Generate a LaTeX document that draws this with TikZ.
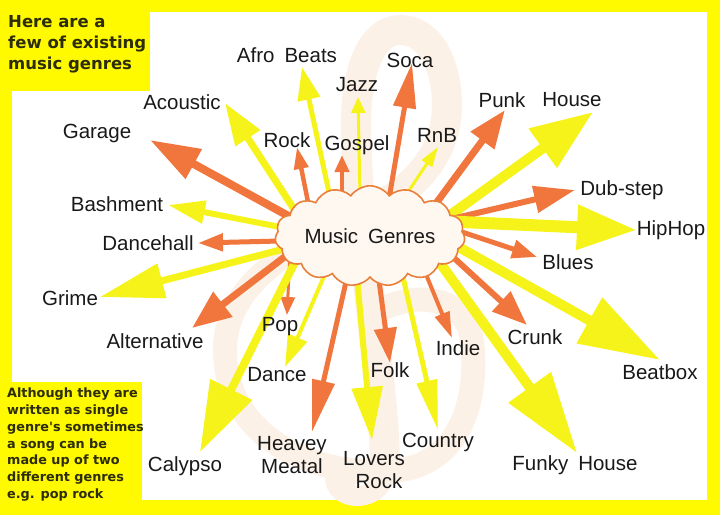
\documentclass[tikz,border=0pt]{standalone}
\usepackage{fontspec}
\setmainfont{Liberation Sans}
\newfontfamily\notefont{DejaVu Sans}
\usetikzlibrary{arrows.meta,shapes.symbols}
\definecolor{frameyellow}{RGB}{255,250,0}
\definecolor{ay}{RGB}{245,243,25}
\definecolor{ao}{RGB}{240,118,62}
\definecolor{cloudline}{RGB}{232,128,60}
\definecolor{cloudfill}{RGB}{255,248,240}
\definecolor{clefcol}{RGB}{252,241,230}
\definecolor{txt}{RGB}{25,25,25}
\definecolor{notetxt}{RGB}{45,45,10}
\begin{document}
\begin{tikzpicture}[x=1pt,y=-1pt,
  lbl/.style={font=\fontsize{20.5}{23}\selectfont, inner sep=0pt, text=txt, align=center},
  notebig/.style={font=\notefont\bfseries\fontsize{16.5}{21}\selectfont, align=left, anchor=north west, inner sep=0pt, text=notetxt},
  notesmall/.style={font=\notefont\bfseries\fontsize{12.8}{16.7}\selectfont, align=left, anchor=north west, inner sep=0pt, text=notetxt}]
\useasboundingbox (0,0) rectangle (720,515);
% frame
\fill[frameyellow] (0,0) rectangle (720,515);
\fill[white] (12,12) rectangle (707,500);
\fill[frameyellow] (0,0) rectangle (150,91);
\fill[frameyellow] (0,382) rectangle (142,515);
% faint treble clef
\draw[clefcol, line width=24pt, line cap=round]
  (390,200) .. controls (300,240) and (225,280) .. (225,350)
  .. controls (225,440) and (320,480) .. (400,470)
  .. controls (470,460) and (480,380) .. (470,330)
  .. controls (460,300) and (420,290) .. (380,310);
\draw[clefcol, line width=30pt, line cap=round]
  (390,200) .. controls (420,180) and (447,150) .. (447,105)
  .. controls (447,65) and (430,30) .. (400,30)
  .. controls (372,30) and (355,70) .. (356,130)
  .. controls (358,250) and (385,380) .. (385,470);
\draw[clefcol, line width=20pt, line cap=round]
  (385,470) .. controls (385,500) and (340,505) .. (335,480);
\fill[clefcol] (345,474) circle (15);
% arrows
\foreach \n/\sx/\sy/\tx/\ty/\col/\lw/\hl/\hw in {
  garage/283/213/150/140/ao/8/50/32,
  acoustic/290/203/225/103/ay/7/42/28,
  afro/330/197/302/67/ay/5/33/22,
  jazz/360/195/358/97/ay/3/16/14,
  soca/390/193/412/63/ao/5/45/22,
  rock/308/202/297/147/ao/4.5/22/14,
  gospel/342/195/342/155/ao/4.5/17/14,
  rnb/408/192/438/147/ay/3/20/12,
  punk/437/202/505/110/ao/7/38/28,
  house/453/213/593/112/ay/10/62/46,
  dubstep/460/217/575/190/ao/6/41/26,
  hiphop/462/222/637/230/ay/12/60/42,
  blues/465/233/537/257/ao/5/25/18,
  beatbox/455/245/660/360/ay/10/81/50,
  crunk/453/257/527/325/ao/6/35/26,
  funky/443/267/577/453/ay/10/81/50,
  indie/423/267/452/338/ao/4/26/15,
  country/403/277/438/430/ay/5/50/20,
  folk/378/273/390/363/ao/5/35/22,
  lovers/357/277/372/440/ay/6/53/30,
  heavey/348/273/312/432/ao/5/52/22,
  dance/328/267/285/367/ay/4/32/20,
  pop/290/253/287/315/ao/3/18/14,
  calypso/295/262/200/452/ay/8/70/45,
  alternative/287/255/192/328/ao/7/39/30,
  grime/280/250/100/297/ay/7/64/34,
  dancehall/280/241/198/243/ao/5/25/17,
  bashment/280/227/168/205/ay/6/37/22}
{
  \coordinate (s\n) at (\sx,\sy);
  \coordinate (t\n) at (\tx,\ty);
  \draw[\col, line width=\lw pt, shorten <=-18pt, -{Triangle[length=\hl pt, width=\hw pt]}] (s\n) -- (t\n);
}
% cloud
\node[cloud, cloud puffs=15, cloud puff arc=110, aspect=2.25, draw=cloudline, fill=cloudfill,
  line width=1.6pt, minimum width=186pt, minimum height=82pt, inner sep=0pt, lbl] (cloud)
  at (370,236) {Music\hspace{10pt}Genres};
% labels
\foreach \n/\lx/\ly/\lab in {
  garage/97/133/Garage,
  acoustic/182/102/Acoustic,
  afro/287/55/{Afro\hspace{10pt}Beats},
  jazz/357/85/Jazz,
  soca/410/60/Soca,
  rock/287/140/Rock,
  gospel/357/145/Gospel,
  rnb/437/135/RnB,
  punk/502/100/Punk,
  house/572/100/House,
  dubstep/622/190/Dub-step,
  hiphop/671/230/HipHop,
  blues/568/262/Blues,
  beatbox/660/372/Beatbox,
  crunk/535/337/Crunk,
  funky/575/465/{Funky\hspace{10pt}House},
  indie/458/348/Indie,
  country/438/442/Country,
  folk/390/370/Folk,
  lovers/374/470/{Lovers\\\hspace*{10pt}Rock},
  heavey/292/455/{Heavey\\Meatal},
  dance/277/375/Dance,
  pop/280/327/Pop,
  calypso/185/466/Calypso,
  alternative/155/341/Alternative,
  grime/70/298/Grime,
  dancehall/148/243/Dancehall,
  bashment/117/204/Bashment}
{
  \node[lbl] (l\n) at (\lx,\ly) {\lab};
}
% notes
\node[notebig] (topnote) at (8,15) {Here are a\\few of existing\\music genres};
\node[notesmall] (botnote) at (7,388) {Although they are\\written as single\\genre's sometimes\\a song can be\\made up of two\\different genres\\e.g. pop rock};
\end{tikzpicture}
\end{document}
